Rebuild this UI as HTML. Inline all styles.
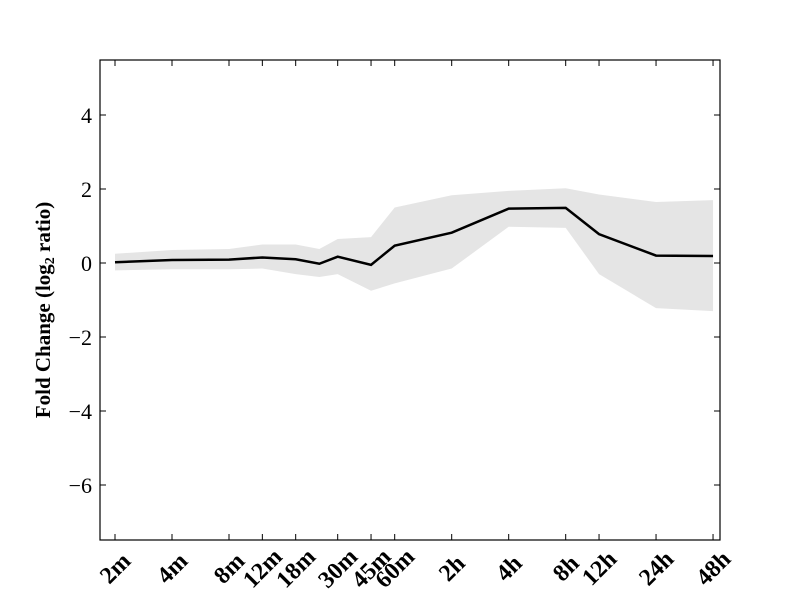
<!DOCTYPE html>
<html><head><meta charset="utf-8"><style>
body{margin:0;background:#fff;}
svg text{font-family:"Liberation Serif",serif;fill:#000;}
</style></head><body>
<svg id="chart" width="800" height="600" xmlns="http://www.w3.org/2000/svg">
<rect width="800" height="600" fill="#fff"/>
<g id="band"></g>
<g id="line"></g>
<rect x="100" y="60" width="620" height="480" fill="none" stroke="#000" stroke-width="1.2"/>
<g id="yticks"></g>
<g id="xticks"></g>
<text transform="translate(50,310) rotate(-90)" text-anchor="middle" font-size="21" font-weight="bold">Fold Change (log<tspan font-size="14" dy="4">2</tspan><tspan dy="-4"> ratio)</tspan></text>
</svg>
<script>
const categories=["2m","4m","8m","12m","18m","24m","30m","45m","60m","2h","4h","8h","12h","24h","48h"];
const minutes=[2,4,8,12,18,24,30,45,60,120,240,480,720,1440,2880];
const meanValues=[0.02,0.08,0.09,0.15,0.1,-0.02,0.17,-0.05,0.47,0.82,1.47,1.49,0.78,0.2,0.19];
const upperValues=[0.25,0.35,0.38,0.5,0.5,0.38,0.65,0.7,1.5,1.83,1.95,2.02,1.85,1.65,1.7];
const lowerValues=[-0.2,-0.17,-0.17,-0.15,-0.3,-0.38,-0.3,-0.75,-0.55,-0.15,0.98,0.95,-0.3,-1.22,-1.3];
const yTicks=[4,2,0,-2,-4,-6];
const xTickLabels=["2m","4m","8m","12m","18m","30m","45m","60m","2h","4h","8h","12h","24h","48h"];
const xTickMinutes=[2,4,8,12,18,30,45,60,120,240,480,720,1440,2880];
const NS="http://www.w3.org/2000/svg";
const X=m=>115+57*(Math.log2(m)-1);
const Y=v=>263-37*v;
function mk(t,a,p){const e=document.createElementNS(NS,t);for(const k in a)e.setAttribute(k,a[k]);p.appendChild(e);return e;}
let d="M"+minutes.map((m,i)=>X(m)+","+Y(upperValues[i])).join("L");
for(let i=minutes.length-1;i>=0;i--)d+="L"+X(minutes[i])+","+Y(lowerValues[i]);
const b=mk("path",{d:d+"Z",fill:"#e5e5e5"},document.getElementById("band"));


const l=mk("path",{d:"M"+minutes.map((m,i)=>X(m)+","+Y(meanValues[i])).join("L"),fill:"none",stroke:"#000","stroke-width":2.5},document.getElementById("line"));


const yg=document.getElementById("yticks");
yTicks.forEach(v=>{
 mk("line",{x1:100,x2:106,y1:Y(v),y2:Y(v),stroke:"#000"},yg);
 mk("line",{x1:714,x2:720,y1:Y(v),y2:Y(v),stroke:"#000"},yg);
 const t=mk("text",{x:92,y:Y(v)+8,"text-anchor":"end","font-size":22},yg);
 t.textContent=v<0?"\u2212"+(-v):String(v);
 
 
});
const xg=document.getElementById("xticks");
xTickMinutes.forEach((m,i)=>{
 const x=X(m);
 mk("line",{x1:x,x2:x,y1:534,y2:540,stroke:"#000"},xg);
 mk("line",{x1:x,x2:x,y1:60,y2:66,stroke:"#000"},xg);
 const t=mk("text",{transform:`translate(${x},${568}) rotate(-45)`,"text-anchor":"middle","font-size":24,"font-weight":"bold",dy:8},xg);
 t.textContent=xTickLabels[i];
 
 
});
</script>
</body></html>
